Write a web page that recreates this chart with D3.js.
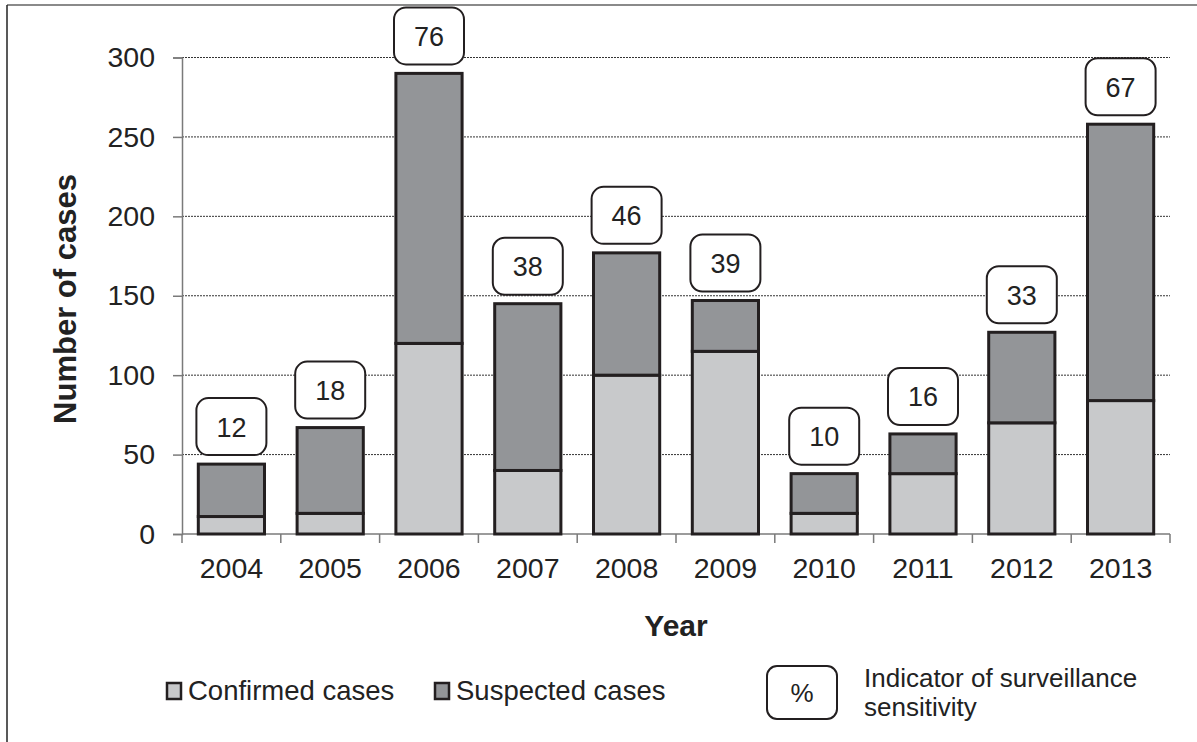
<!DOCTYPE html>
<html>
<head>
<meta charset="utf-8">
<script src="https://cdn.jsdelivr.net/npm/d3@7/dist/d3.min.js"></script>
<style>
  html, body { margin: 0; padding: 0; background: #fff; }
  svg { display: block; font-family: "Liberation Sans", Arial, sans-serif; }
</style>
</head>
<body>
<svg id="chart" width="1197" height="742"></svg>
<script>
const years = ["2004","2005","2006","2007","2008","2009","2010","2011","2012","2013"];
const confirmed = [11, 13, 120, 40, 100, 115, 13, 38, 70, 84];
const suspected = [33, 54, 170, 105, 77, 32, 25, 25, 57, 174];
const sensitivity = [12, 18, 76, 38, 46, 39, 10, 16, 33, 67];
const yTicks = [0, 50, 100, 150, 200, 250, 300];
const seriesNames = ["Confirmed cases", "Suspected cases"];
const colors = ["#c8c9cb", "#939598"];

const svg = d3.select("#chart");
const W = 1197, H = 742;
const x0 = 182, x1 = 1170, yZero = 534, yTop = 57.5;

// frame
svg.append("line").attr("x1", 7).attr("x2", W).attr("y1", 5).attr("y2", 5)
  .attr("stroke", "#8a8a8a").attr("stroke-width", 2);
svg.append("line").attr("x1", 7).attr("x2", 7).attr("y1", 5).attr("y2", H)
  .attr("stroke", "#222").attr("stroke-width", 1.5);

const x = d3.scaleBand().domain(years).range([x0, x1]).paddingInner(0.33).paddingOuter(0.165);
const y = d3.scaleLinear().domain([0, 300]).range([yZero, yTop]);

// gridlines
svg.append("g").selectAll("line").data(yTicks.filter(d => d > 0)).join("line")
  .attr("x1", x0).attr("x2", x1)
  .attr("y1", d => y(d)).attr("y2", d => y(d))
  .attr("stroke", "#333").attr("stroke-width", 1).attr("stroke-dasharray", "2,1");

// y axis
const yAxis = d3.axisLeft(y).tickValues(yTicks).tickSize(9).tickPadding(18);
const gy = svg.append("g").attr("transform", `translate(${x0},0)`).call(yAxis);
gy.select(".domain").attr("stroke", "#7a7a7a").attr("stroke-width", 1.5);
gy.selectAll(".tick line").attr("stroke", "#7a7a7a").attr("stroke-width", 1.5);
gy.selectAll(".tick text").attr("font-size", 28.5).attr("fill", "#222")
  .attr("font-family", "'Liberation Sans', Arial, sans-serif");

// x axis with ticks between categories
const gx = svg.append("g").attr("transform", `translate(0,${yZero})`);
gx.append("line").attr("x1", x0).attr("x2", x1).attr("y1", 0).attr("y2", 0)
  .attr("stroke", "#7a7a7a").attr("stroke-width", 1.5);
const bounds = d3.range(years.length + 1).map(i => x0 + i * (x1 - x0) / years.length);
gx.selectAll("line.tk").data(bounds).join("line").attr("class", "tk")
  .attr("x1", d => d).attr("x2", d => d).attr("y1", 0).attr("y2", 9)
  .attr("stroke", "#7a7a7a").attr("stroke-width", 1.5);
gx.selectAll("text").data(years).join("text")
  .attr("x", d => x(d) + x.bandwidth() / 2).attr("y", 44)
  .attr("text-anchor", "middle").attr("font-size", 28.5).attr("fill", "#222")
  .text(d => d);

// stacked bars
const rows = years.map((yr, i) => ({ year: yr, confirmed: confirmed[i], suspected: suspected[i] }));
const stack = d3.stack().keys(["confirmed", "suspected"])(rows);
svg.append("g").selectAll("g").data(stack).join("g")
  .attr("fill", (d, i) => colors[i])
  .selectAll("rect").data(d => d).join("rect")
  .attr("x", d => x(d.data.year)).attr("width", x.bandwidth())
  .attr("y", d => y(d[1])).attr("height", d => y(d[0]) - y(d[1]))
  .attr("stroke", "#231f20").attr("stroke-width", 3);

// sensitivity label boxes
const totals = years.map((yr, i) => confirmed[i] + suspected[i]);
const bw = 70, bh = 57;
const lg = svg.append("g").selectAll("g").data(years).join("g")
  .attr("transform", (d, i) => `translate(${x(d) + x.bandwidth() / 2},${y(totals[i]) - 9 - bh / 2})`);
lg.append("rect").attr("x", -bw / 2).attr("y", -bh / 2).attr("width", bw).attr("height", bh)
  .attr("rx", 12).attr("ry", 12).attr("fill", "#fff").attr("stroke", "#231f20").attr("stroke-width", 2);
lg.append("text").attr("text-anchor", "middle").attr("y", 10).attr("font-size", 27).attr("fill", "#222")
  .text((d, i) => sensitivity[i]);

// axis titles
svg.append("text").attr("transform", "translate(76,299) rotate(-90)")
  .attr("text-anchor", "middle").attr("font-size", 31).attr("font-weight", "bold").attr("fill", "#222")
  .text("Number of cases");
svg.append("text").attr("x", (x0 + x1) / 2).attr("y", 636)
  .attr("text-anchor", "middle").attr("font-size", 30).attr("font-weight", "bold").attr("fill", "#222")
  .text("Year");

// legend
const legX = [166, 434];
const leg = svg.append("g").selectAll("g").data(seriesNames).join("g")
  .attr("transform", (d, i) => `translate(${legX[i]},0)`);
leg.append("rect").attr("x", 1).attr("y", 683).attr("width", 14).attr("height", 16)
  .attr("fill", (d, i) => colors[i]).attr("stroke", "#231f20").attr("stroke-width", 2.5);
leg.append("text").attr("x", 22).attr("y", 700).attr("font-size", 27.5).attr("fill", "#222").text(d => d);

svg.append("rect").attr("x", 767).attr("y", 666).attr("width", 70).attr("height", 53)
  .attr("rx", 10).attr("ry", 10).attr("fill", "#fff").attr("stroke", "#231f20").attr("stroke-width", 2);
svg.append("text").attr("x", 802).attr("y", 702).attr("text-anchor", "middle")
  .attr("font-size", 26).attr("fill", "#222").text("%");
svg.append("text").attr("x", 864).attr("y", 687).attr("font-size", 26).attr("fill", "#222")
  .text("Indicator of surveillance");
svg.append("text").attr("x", 864).attr("y", 716).attr("font-size", 26).attr("fill", "#222")
  .text("sensitivity");
</script>
</body>
</html>
